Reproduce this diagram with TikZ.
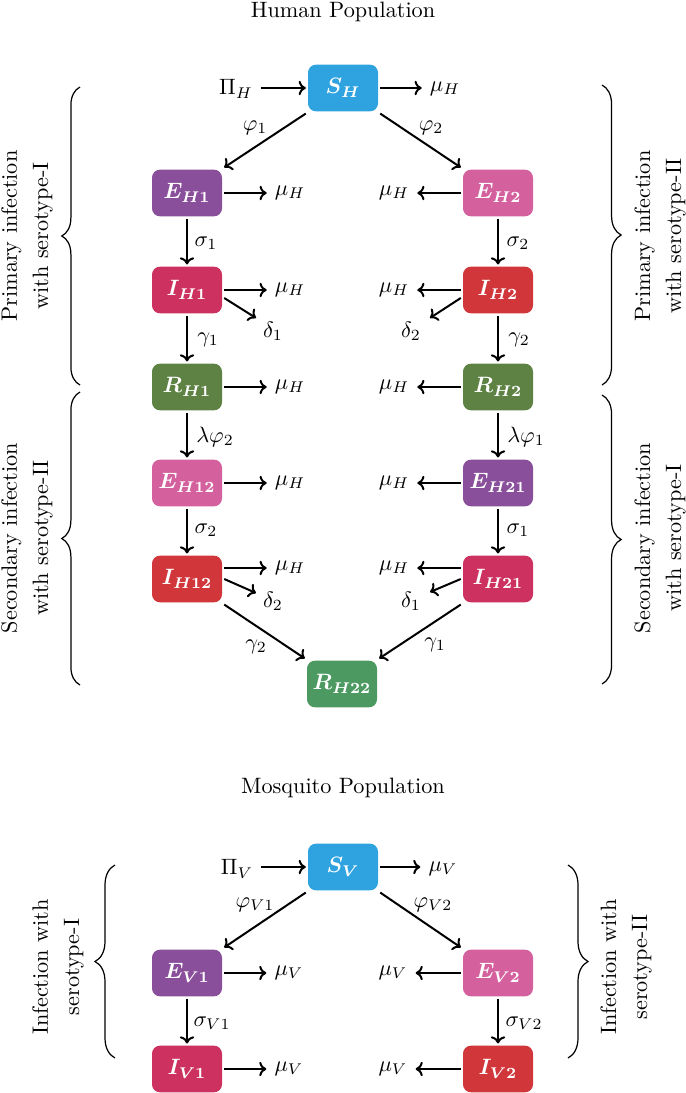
\documentclass[tikz,border=0pt]{standalone}
\usepackage{amsmath}
\usetikzlibrary{arrows.meta,decorations.pathreplacing,calc}
\definecolor{cS}{HTML}{2FA3E0}
\definecolor{cP}{HTML}{8A4F9A}
\definecolor{cK}{HTML}{D4609E}
\definecolor{cC}{HTML}{CC3160}
\definecolor{cR}{HTML}{D0363A}
\definecolor{cG}{HTML}{5E8244}
\definecolor{cL}{HTML}{4C9A62}
\begin{document}
\begin{tikzpicture}[x=0.45pt,y=-0.45pt,
  box/.style={fill=#1, draw=none, rounded corners=3.6pt, minimum width=31.5pt,
    minimum height=21pt, text=white, inner sep=0pt, outer sep=1pt, font=\boldmath},
  arr/.style={-{To[length=3.2pt,width=6.5pt]}, line width=0.9pt},
  lbl/.style={inner sep=3.5pt},
  brc/.style={decorate, decoration={brace, amplitude=#1}, line width=0.55pt},
  side/.style={rotate=90, align=center, inner sep=0pt}]
\useasboundingbox (0,0) rectangle (685,1093);

% ---------------- Human population ----------------
\node (t1) at (343,12) {Human Population};

\node[box=cS] (SH)   at (343,88)  {$S_H$};
\node[box=cP] (EH1)  at (187,193) {$E_{H1}$};
\node[box=cK] (EH2)  at (498,193) {$E_{H2}$};
\node[box=cC] (IH1)  at (187,290) {$I_{H1}$};
\node[box=cR] (IH2)  at (498,290) {$I_{H2}$};
\node[box=cG] (RH1)  at (187,387) {$R_{H1}$};
\node[box=cG] (RH2)  at (498,387) {$R_{H2}$};
\node[box=cK] (EH12) at (187,483) {$E_{H12}$};
\node[box=cP] (EH21) at (498,483) {$E_{H21}$};
\node[box=cR] (IH12) at (187,579) {$I_{H12}$};
\node[box=cC] (IH21) at (498,579) {$I_{H21}$};
\node[box=cL] (RH22) at (342,684) {$R_{H22}$};

% inflow / outflow of S_H
\node[lbl] (PiH) at (236,89) {$\Pi_H$};
\node[lbl] (mSH) at (445,89) {$\mu_H$};
\draw[arr] (PiH.east |- SH) -- (SH);
\draw[arr] (SH) -- (SH -| mSH.west);

% S_H to E
\draw[arr] (SH.south west) -- (EH1.north east);
\draw[arr] (SH.south east) -- (EH2.north west);
\node[lbl] (p1) at (255,128) {$\varphi_1$};
\node[lbl] (p2) at (431,128) {$\varphi_2$};

% natural deaths, left column
\node[lbl] (mE1)  at (290,193) {$\mu_H$};
\node[lbl] (mI1)  at (290,290) {$\mu_H$};
\node[lbl] (mR1)  at (290,387) {$\mu_H$};
\node[lbl] (mE12) at (290,483) {$\mu_H$};
\node[lbl] (mI12) at (290,568) {$\mu_H$};
\draw[arr] (EH1) -- (EH1 -| mE1.west);
\draw[arr] (IH1) -- (IH1 -| mI1.west);
\draw[arr] (RH1) -- (RH1 -| mR1.west);
\draw[arr] (EH12) -- (EH12 -| mE12.west);
\draw[arr] (IH12.east |- mI12) -- (mI12.west);

% natural deaths, right column
\node[lbl] (mE2)  at (394,193) {$\mu_H$};
\node[lbl] (mI2)  at (394,290) {$\mu_H$};
\node[lbl] (mR2)  at (394,387) {$\mu_H$};
\node[lbl] (mE21) at (394,483) {$\mu_H$};
\node[lbl] (mI21) at (394,568) {$\mu_H$};
\draw[arr] (EH2) -- (EH2 -| mE2.east);
\draw[arr] (IH2) -- (IH2 -| mI2.east);
\draw[arr] (RH2) -- (RH2 -| mR2.east);
\draw[arr] (EH21) -- (EH21 -| mE21.east);
\draw[arr] (IH21.west |- mI21) -- (mI21.east);

% vertical transitions
\draw[arr] (EH1) -- (IH1);
\draw[arr] (IH1) -- (RH1);
\draw[arr] (RH1) -- (EH12);
\draw[arr] (EH12) -- (IH12);
\draw[arr] (EH2) -- (IH2);
\draw[arr] (IH2) -- (RH2);
\draw[arr] (RH2) -- (EH21);
\draw[arr] (EH21) -- (IH21);
\node[lbl] (s1)  at (206,243) {$\sigma_1$};
\node[lbl] (g1)  at (208,340) {$\gamma_1$};
\node[lbl] (lp2) at (215,437) {$\lambda\varphi_2$};
\node[lbl] (s2b) at (206,530) {$\sigma_2$};
\node[lbl] (s2)  at (518,243) {$\sigma_2$};
\node[lbl] (g2)  at (519,340) {$\gamma_2$};
\node[lbl] (lp1) at (526,437) {$\lambda\varphi_1$};
\node[lbl] (s1b) at (518,530) {$\sigma_1$};

% disease deaths
\coordinate (d1e) at (256,318);
\coordinate (d2e) at (430,318);
\coordinate (d3e) at (256,593);
\coordinate (d4e) at (430,592);
\draw[arr] ($(IH1.east)+(0,8)$) -- (d1e);
\draw[arr] ($(IH2.west)+(0,8)$) -- (d2e);
\draw[arr] (IH12.east) -- (d3e);
\draw[arr] (IH21.west) -- (d4e);
\node[lbl] (dl1) at (273,331) {$\delta_1$};
\node[lbl] (dl2) at (411,331) {$\delta_2$};
\node[lbl] (dl3) at (273,601) {$\delta_2$};
\node[lbl] (dl4) at (411,601) {$\delta_1$};

% recovery after secondary infection
\draw[arr] (IH12.south east) -- (RH22.north west);
\draw[arr] (IH21.south west) -- (RH22.north east);
\node[lbl] (g2b) at (256,647) {$\gamma_2$};
\node[lbl] (g1b) at (435,645) {$\gamma_1$};

% braces and side texts (human)
\draw[brc=8.2pt] (80,385) -- (80,87);
\draw[brc=8.6pt] (602,85) -- (602,385);
\draw[brc=8.2pt] (80,685) -- (80,392);
\draw[brc=8.6pt] (602,395) -- (602,684);
\node[side] (tx1) at (27,236)  {Primary infection\\[2pt]with serotype-I};
\node[side] (tx2) at (660,236) {Primary infection\\[2pt]with serotype-II};
\node[side] (tx3) at (27,538)  {Secondary infection\\[2pt]with serotype-II};
\node[side] (tx4) at (660,538) {Secondary infection\\[2pt]with serotype-I};

% ---------------- Mosquito population ----------------
\node (t2) at (343,788) {Mosquito Population};

\node[box=cS] (SV)  at (343,867)  {$S_V$};
\node[box=cP] (EV1) at (187,973)  {$E_{V1}$};
\node[box=cK] (EV2) at (498,973)  {$E_{V2}$};
\node[box=cC] (IV1) at (187,1069) {$I_{V1}$};
\node[box=cR] (IV2) at (498,1069) {$I_{V2}$};

\node[lbl] (PiV) at (237,869) {$\Pi_V$};
\node[lbl] (mSV) at (443,869) {$\mu_V$};
\draw[arr] (PiV.east |- SV) -- (SV);
\draw[arr] (SV) -- (SV -| mSV.west);

\draw[arr] (SV.south west) -- (EV1.north east);
\draw[arr] (SV.south east) -- (EV2.north west);
\node[lbl] (pv1) at (255,905) {$\varphi_{V1}$};
\node[lbl] (pv2) at (433,905) {$\varphi_{V2}$};

\node[lbl] (mEV1) at (289,973)  {$\mu_V$};
\node[lbl] (mIV1) at (289,1069) {$\mu_V$};
\node[lbl] (mEV2) at (393,973)  {$\mu_V$};
\node[lbl] (mIV2) at (393,1069) {$\mu_V$};
\draw[arr] (EV1) -- (EV1 -| mEV1.west);
\draw[arr] (IV1) -- (IV1 -| mIV1.west);
\draw[arr] (EV2) -- (EV2 -| mEV2.east);
\draw[arr] (IV2) -- (IV2 -| mIV2.east);

\draw[arr] (EV1) -- (IV1);
\draw[arr] (EV2) -- (IV2);
\node[lbl] (sv1) at (212,1023) {$\sigma_{V1}$};
\node[lbl] (sv2) at (524,1023) {$\sigma_{V2}$};

\draw[brc=9pt] (115,1058) -- (115,865);
\draw[brc=9pt] (568,865) -- (568,1058);
\node[side] (tx5) at (58,967)  {Infection with\\[2pt]serotype-I};
\node[side] (tx6) at (626,967) {Infection with\\[2pt]serotype-II};
\end{tikzpicture}
\end{document}
